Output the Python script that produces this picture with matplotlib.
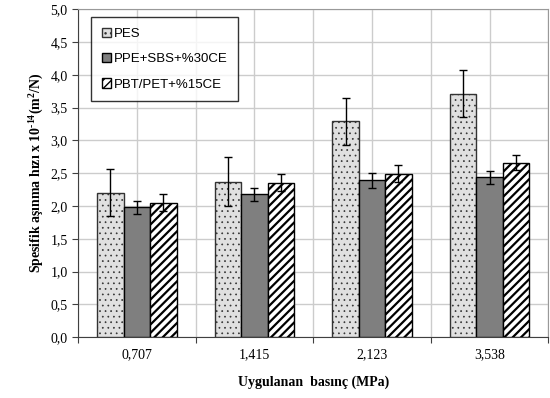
import matplotlib.pyplot as plt
import numpy as np

# --- veri ---
pressures = ["0,707", "1,415", "2,123", "3,538"]
series = ["PES", "PPE+SBS+%30CE", "PBT/PET+%15CE"]
pes = [2.20, 2.37, 3.29, 3.71]
pes_err = [0.36, 0.37, 0.36, 0.36]
ppe = [1.98, 2.18, 2.39, 2.44]
ppe_err = [0.10, 0.10, 0.11, 0.10]
pbt = [2.05, 2.35, 2.49, 2.66]
pbt_err = [0.13, 0.13, 0.13, 0.11]

# üst simgeler için serif kalın yazı
plt.rcParams["mathtext.fontset"] = "custom"
plt.rcParams["mathtext.rm"] = "Liberation Serif"
plt.rcParams["mathtext.bf"] = "Liberation Serif:bold"

fig = plt.figure(figsize=(5.5, 3.98), dpi=100)
ax = fig.add_axes([0.142, 0.153, 0.855, 0.824])

x = np.arange(len(pressures))
w = 0.225
err_kw = dict(ecolor="black", capsize=3, elinewidth=1, capthick=1, zorder=4)

b1 = ax.bar(x - w, pes, w, yerr=pes_err, color="#e0e0e0", edgecolor="#333333",
            hatch="...", linewidth=1, label=series[0], error_kw=err_kw, zorder=3)
b2 = ax.bar(x, ppe, w, yerr=ppe_err, color="#7f7f7f", edgecolor="black",
            linewidth=1, label=series[1], error_kw=err_kw, zorder=3)
b3 = ax.bar(x + w, pbt, w, yerr=pbt_err, color="white", edgecolor="black",
            hatch="////", linewidth=1, label=series[2], error_kw=err_kw, zorder=3)

# tarama kalınlıkları: noktalar ince, çizgiler kalın
for p in b1:
    p.set_hatch_linewidth(0.5)
for p in b3:
    p.set_hatch_linewidth(1.6)

ax.set_xlim(-0.5, len(pressures) - 0.5)
ax.set_ylim(0, 5)

# y ekseni
yt = np.arange(0, 5.01, 0.5)
ax.set_yticks(yt)
ax.set_yticklabels([f"{v:.1f}".replace(".", ",") for v in yt],
                   fontfamily="Liberation Serif", fontsize=10)

# x ekseni: tikler sınırlarda, etiketler ortada
ax.set_xticks(np.arange(-0.5, len(pressures), 1.0))
ax.set_xticklabels([])
ax.set_xticks(x, minor=True)
ax.set_xticklabels(pressures, minor=True, fontfamily="Liberation Serif", fontsize=10)
ax.tick_params(axis="x", which="minor", length=0, pad=8)
ax.tick_params(axis="x", which="major", length=4, color="#404040")
ax.tick_params(axis="y", length=4, color="#404040")

# ızgara
for v in np.arange(-0.5, len(pressures), 0.5):
    ax.axvline(v, color="#cccccc", linewidth=1, zorder=0)
ax.yaxis.grid(True, color="#cccccc", linewidth=1, zorder=0)
ax.set_axisbelow(True)

for s in ["top", "right"]:
    ax.spines[s].set_color("#999999")
for s in ["left", "bottom"]:
    ax.spines[s].set_color("#404040")

ax.set_ylabel("Spesifik aşınma hızı x 10$^{\\mathbf{\u2010 14}}$(m$^{\\mathbf{2}}$/N)".replace("\u2010 ", "\u2010"),
              fontfamily="Liberation Serif", fontweight="bold", fontsize=10)
ax.set_xlabel("Uygulanan  basınç (MPa)", fontfamily="Liberation Serif",
              fontweight="bold", fontsize=10, labelpad=10)

leg = ax.legend(loc="upper left", bbox_to_anchor=(0.028, 0.976), borderaxespad=0,
                frameon=True, fancybox=False, edgecolor="black", handlelength=0.7,
                handleheight=0.7, handletextpad=0.2, borderpad=0.8,
                labelspacing=1.0, prop={"family": "Liberation Sans", "size": 9.5})
leg.get_frame().set_linewidth(1)

plt.savefig("out.png", dpi=100)
plt.close()
